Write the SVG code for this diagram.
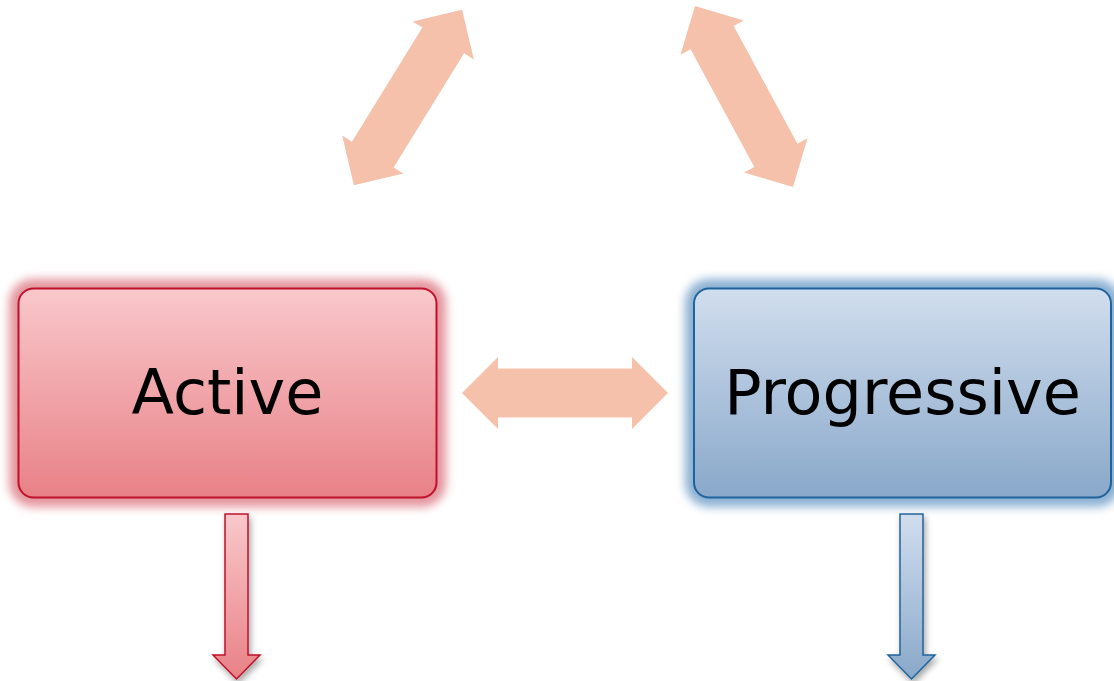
<svg xmlns="http://www.w3.org/2000/svg" width="1114" height="681" viewBox="0 0 1114 681">
<defs>
<style>
.conn{fill:#F6C1AB;}
.lbl{font-family:"DejaVu Sans",Verdana,sans-serif;font-size:62px;fill:#000;text-anchor:middle;}
</style>
<linearGradient id="gRed" x1="0" y1="0" x2="0" y2="1"><stop offset="0" stop-color="#F9C8CB"/><stop offset="1" stop-color="#E88187"/></linearGradient>
<linearGradient id="gBlue" x1="0" y1="0" x2="0" y2="1"><stop offset="0" stop-color="#D1DEEE"/><stop offset="1" stop-color="#89A8CA"/></linearGradient>
<filter id="glow" x="-20%" y="-30%" width="140%" height="160%"><feGaussianBlur stdDeviation="5"/></filter>
<filter id="shadow" x="-50%" y="-10%" width="200%" height="130%"><feDropShadow dx="2" dy="4" stdDeviation="3" flood-color="#000" flood-opacity="0.35"/></filter>
<path id="dbl" d="M-103,0 L-67,-36 L-67,-24.5 L67,-24.5 L67,-36 L103,0 L67,36 L67,24.5 L-67,24.5 L-67,36 Z"/>
</defs>
<g id="connectors">
<use href="#dbl" class="conn" transform="translate(408,97.5) rotate(-58.3)"/>
<use href="#dbl" class="conn" transform="translate(744,96.5) rotate(61.6)"/>
<use href="#dbl" class="conn" transform="translate(565,393)"/>
<path d="M225,514 H248 V655 H260 L236.5,679 L213,655 H225 Z" fill="url(#gRed)" stroke="#C0102A" stroke-width="1.5" filter="url(#shadow)"/>
<path d="M900,514 H923 V655 H935 L911.5,679 L888,655 H900 Z" fill="url(#gBlue)" stroke="#1F639C" stroke-width="1.5" filter="url(#shadow)"/>
</g>
<g id="active">
<rect x="9" y="279" width="437" height="228" rx="24" fill="#DD7A85" opacity="0.8" filter="url(#glow)"/>
<rect x="18.5" y="288.5" width="418" height="209" rx="15" fill="url(#gRed)" stroke="#C0102A" stroke-width="2"/>
<text class="lbl" x="227.5" y="414">Active</text>
</g>
<g id="progressive">
<rect x="685" y="279" width="436" height="228" rx="24" fill="#6E9DC8" opacity="0.8" filter="url(#glow)"/>
<rect x="694" y="288.5" width="417" height="209" rx="15" fill="url(#gBlue)" stroke="#1F639C" stroke-width="2"/>
<text class="lbl" x="902.5" y="414">Progressive</text>
</g>
</svg>
